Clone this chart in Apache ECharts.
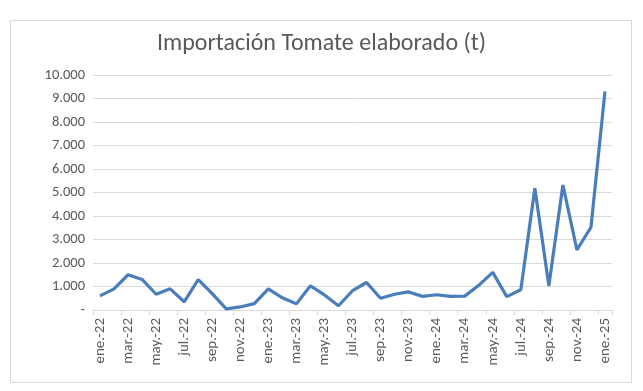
<!DOCTYPE html>
<html><head><meta charset="utf-8">
<script src="https://cdn.jsdelivr.net/npm/echarts@6/dist/echarts.min.js"></script>
<style>html,body{margin:0;padding:0;background:#fff}#c{width:643px;height:391px}</style>
</head><body><div id="c"></div>
<script>
const categories = ['ene.-22','feb.-22','mar.-22','abr.-22','may.-22','jun.-22','jul.-22','ago.-22','sep.-22','oct.-22','nov.-22','dic.-22',
 'ene.-23','feb.-23','mar.-23','abr.-23','may.-23','jun.-23','jul.-23','ago.-23','sep.-23','oct.-23','nov.-23','dic.-23',
 'ene.-24','feb.-24','mar.-24','abr.-24','may.-24','jun.-24','jul.-24','ago.-24','sep.-24','oct.-24','nov.-24','dic.-24','ene.-25'];
const values = [600,900,1500,1300,670,900,350,1290,700,50,130,270,
 900,520,260,1030,640,180,820,1170,500,670,770,580,
 650,580,590,1050,1600,570,860,5180,1030,5320,2560,3520,9300];
const chartTitle = 'Importación Tomate elaborado (t)';

const chart = echarts.init(document.getElementById('c'), null, {renderer:'canvas'});
const font = 'Carlito, "Open Sans"';
chart.setOption({
  animation:false,
  backgroundColor:'#fff',
  graphic:[{type:'rect',shape:{x:10.5,y:20.5,width:621,height:362},style:{fill:'none',stroke:'#d9d9d9',lineWidth:1},z:-1}],
  title:{text:chartTitle,left:'center',top:27,textStyle:{fontFamily:font,fontSize:24,fontWeight:'normal',color:'#595959'}},
  grid:{left:93,right:31,top:75,bottom:81},
  xAxis:{type:'category',data:categories,boundaryGap:true,
    axisLine:{lineStyle:{color:'#d9d9d9'}},
    axisTick:{show:true,interval:1,length:5,lineStyle:{color:'#d9d9d9'}},
    axisLabel:{interval:1,rotate:90,fontFamily:font,fontSize:15,color:'#595959',margin:8}},
  yAxis:{type:'value',min:0,max:10000,interval:1000,
    axisLine:{show:false},axisTick:{show:false},
    splitLine:{lineStyle:{color:'#d9d9d9'}},
    axisLabel:{fontFamily:font,fontSize:14.5,color:'#595959',margin:8,
      formatter:v=>v===0?'-':v.toLocaleString('de-DE')}},
  series:[{type:'line',data:values,symbol:'none',lineStyle:{color:'#4a7ebb',width:3.2},itemStyle:{color:'#4a7ebb'}}]
});
</script></body></html>
